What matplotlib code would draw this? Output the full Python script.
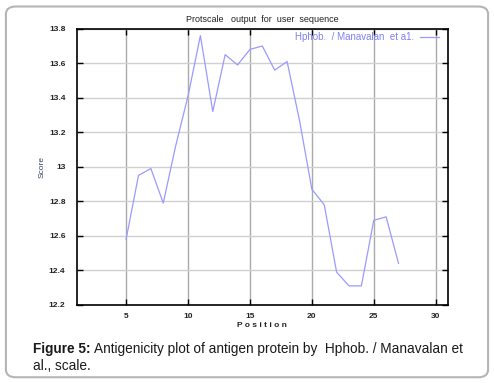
import matplotlib.pyplot as plt
from matplotlib.patches import FancyBboxPatch

plt.rcParams['font.family'] = ['Liberation Sans', 'DejaVu Sans']

# data
position = [5, 6, 7, 8, 9, 10, 11, 12, 13, 14, 15, 16, 17, 18, 19, 20,
            21, 22, 23, 24, 25, 26, 27]
score = [12.58, 12.95, 12.99, 12.79, 13.12, 13.41, 13.76, 13.32, 13.65,
         13.59, 13.68, 13.70, 13.56, 13.61, 13.27, 12.87, 12.78, 12.39,
         12.31, 12.31, 12.69, 12.71, 12.44]
xticks = [5, 10, 15, 20, 25, 30]
yticks = [12.2, 12.4, 12.6, 12.8, 13.0, 13.2, 13.4, 13.6, 13.8]
ytick_labels = ['12.2', '12.4', '12.6', '12.8', '13', '13.2', '13.4', '13.6', '13.8']

fig = plt.figure(figsize=(4.94, 3.83), dpi=100)

# rounded frame around the whole figure
frame = FancyBboxPatch((0.012, 0.015), 0.976, 0.968,
                       boxstyle='round,pad=0,rounding_size=0.02',
                       transform=fig.transFigure, fill=False,
                       edgecolor='#b5b5b5', linewidth=1.5)
fig.patches.append(frame)

ax = fig.add_axes([0.155, 0.204, 0.752, 0.721])
ax.plot(position, score, color='#9a9aff', linewidth=0.9,
        label='Hphob.  / Manavalan  et a1.')

ax.set_xlim(1, 31)
ax.set_ylim(12.2, 13.8)
ax.set_xticks(xticks)
ax.set_xticklabels([str(t) for t in xticks])
ax.set_yticks(yticks)
ax.set_yticklabels(ytick_labels)
ax.tick_params(direction='in', length=4, width=1, top=True, right=True,
               labelsize=6, labelcolor='#222222')
ax.tick_params(axis='y', pad=8)
ax.tick_params(axis='x', pad=6)
for lab in ax.get_xticklabels() + ax.get_yticklabels():
    lab.set_fontweight('bold')

ax.xaxis.grid(True, color='#aaaaaa', linewidth=1)
ax.yaxis.grid(True, color='#d0d0d0', linewidth=1)
ax.set_axisbelow(True)
for s in ax.spines.values():
    s.set_linewidth(1.2)
    s.set_color('black')

ax.set_xlabel('P o s i t i o n', fontsize=6, fontweight='bold',
              color='#222222', labelpad=1)
ax.set_ylabel('Score', fontsize=6, color='#334466', labelpad=2)
ax.set_title('Protscale   output  for  user  sequence', fontsize=6.5,
             color='#222222', pad=5)

leg = ax.legend(loc='upper right', frameon=False, fontsize=7,
                handlelength=2.0, borderaxespad=0.15, borderpad=0.2,
                handletextpad=0.6, markerfirst=False, labelcolor='#8080f0',
                bbox_to_anchor=(0.985, 1.0))

# caption below the chart
cap_bold = fig.text(0.067, 0.078, 'Figure 5:', fontsize=9.8, fontweight='bold',
                    color='#1a1a1a')
fig.canvas.draw()
bb = cap_bold.get_window_extent()
fig.text(bb.x1 / fig.bbox.width + 0.006, 0.078,
         'Antigenicity plot of antigen protein by  Hphob. / Manavalan et',
         fontsize=9.8, color='#1a1a1a')
fig.text(0.067, 0.033, 'al., scale.', fontsize=9.8, color='#1a1a1a')

fig.savefig('out.png', dpi=100)
